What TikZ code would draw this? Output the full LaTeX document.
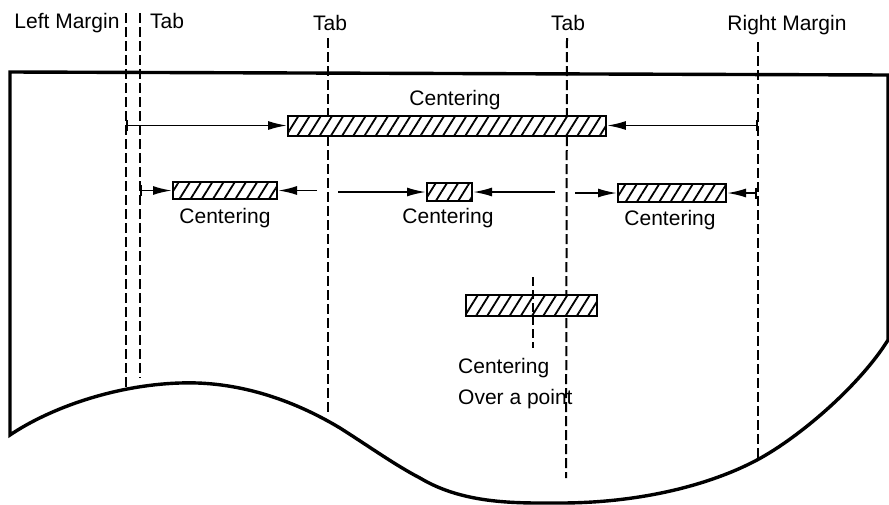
\documentclass[tikz,border=0pt]{standalone}
\usepackage{fontspec}
\setmainfont{Liberation Sans}
\usetikzlibrary{arrows.meta,patterns.meta}

\begin{document}
\begin{tikzpicture}[x=1pt,y=-1pt,
  paper/.style={line width=3.4pt, line join=miter},
  guide/.style={line width=2pt, dash pattern=on 10pt off 4pt},
  bar/.style={draw, line width=2pt, inner sep=0pt,
    preaction={fill=white},
    pattern={Lines[angle=58,distance=9.5pt,line width=1.8pt]}},
  conn/.style={line width=1.9pt, -{Latex[length=19pt,width=9pt]}},
  ticked/.style={{Bar[width=11pt,line width=1.9pt]}-{Latex[length=19pt,width=9pt]}},
  lbl/.style={font=\fontsize{21}{24}\selectfont, inner sep=0pt, anchor=base}]

\useasboundingbox (0,0) rectangle (889,504);

% sheet of paper with torn lower edge
\draw[paper] (10,72) -- (10,435)
  .. controls (50,408) and (115,385) .. (180,383)
  .. controls (235,381) and (290,398) .. (340,428)
  .. controls (370,447) and (395,465) .. (420,478)
  .. controls (465,505) and (520,503) .. (560,503)
  .. controls (640,503) and (710,485) .. (757,460)
  .. controls (800,437) and (860,385) .. (888,340)
  -- (888,75) -- cycle;

% margin and tab stop guides
\coordinate (lmT) at (126,13);  \coordinate (lmB) at (126,387);
\coordinate (t1T) at (140,13);  \coordinate (t1B) at (140,378);
\coordinate (t2T) at (328,38);  \coordinate (t2B) at (328,414);
\coordinate (t3T) at (567,38);  \coordinate (t3B) at (566,478);
\coordinate (rmT) at (758,42);  \coordinate (rmB) at (758,460);
\draw[guide] (lmT) -- (lmB);
\draw[guide] (t1T) -- (t1B);
\draw[guide] (t2T) -- (t2B);
\draw[guide] (t3T) -- (t3B);
\draw[guide] (rmT) -- (rmB);

% labels along the top
\node[lbl] (lmL) at (67,28) {Left Margin};
\node[lbl] (t1L) at (167,28) {Tab};
\node[lbl] (t2L) at (330,30) {Tab};
\node[lbl] (t3L) at (568,30) {Tab};
\node[lbl] (rmL) at (787,30) {Right Margin};

% centering between the margins
\node[bar, minimum width=318pt, minimum height=20pt] (b0) at (447,125.5) {};
\node[lbl] (c0) at (455,105) {Centering};
\coordinate (a0l) at (126,125.5);
\coordinate (a0r) at (758,125.5);
\draw[conn, ticked] (a0l) -- (b0.west);
\draw[conn, ticked] (a0r) -- (b0.east);

% centering between tab stops
\node[bar, minimum width=104pt, minimum height=17pt] (b1) at (225,190.5) {};
\node[bar, minimum width=45pt,  minimum height=18pt] (b2) at (449.5,192) {};
\node[bar, minimum width=108pt, minimum height=18pt] (b3) at (672,193) {};
\node[lbl] (c1) at (225,223) {Centering};
\node[lbl] (c2) at (448,223) {Centering};
\node[lbl] (c3) at (670,225) {Centering};

\coordinate (a1l) at (140,190.5);
\coordinate (a1r) at (317,190.5);
\coordinate (a2l) at (338,192);
\coordinate (a2r) at (555,192);
\coordinate (a3l) at (575,193);
\coordinate (a3r) at (757,193);
\draw[conn, ticked] (a1l) -- (b1.west);
\draw[conn] (a1r) -- (b1.east);
\draw[conn] (a2l) -- (b2.west);
\draw[conn] (a2r) -- (b2.east);
\draw[conn] (a3l) -- (b3.west);
\draw[conn, ticked] (a3r) -- (b3.east);

% centering over a point
\node[bar, minimum width=131pt, minimum height=21pt] (b4) at (531.5,305.5) {};
\coordinate (pT) at (533,277);
\coordinate (pB) at (533,348);
\draw[guide, line width=1.5pt, dash pattern=on 9pt off 4pt] (pT) -- (pB);
\node[lbl, anchor=base west] (c4) at (458,373) {Centering};
\node[lbl, anchor=base west] (c5) at (458,404) {Over a point};
\end{tikzpicture}
\end{document}
